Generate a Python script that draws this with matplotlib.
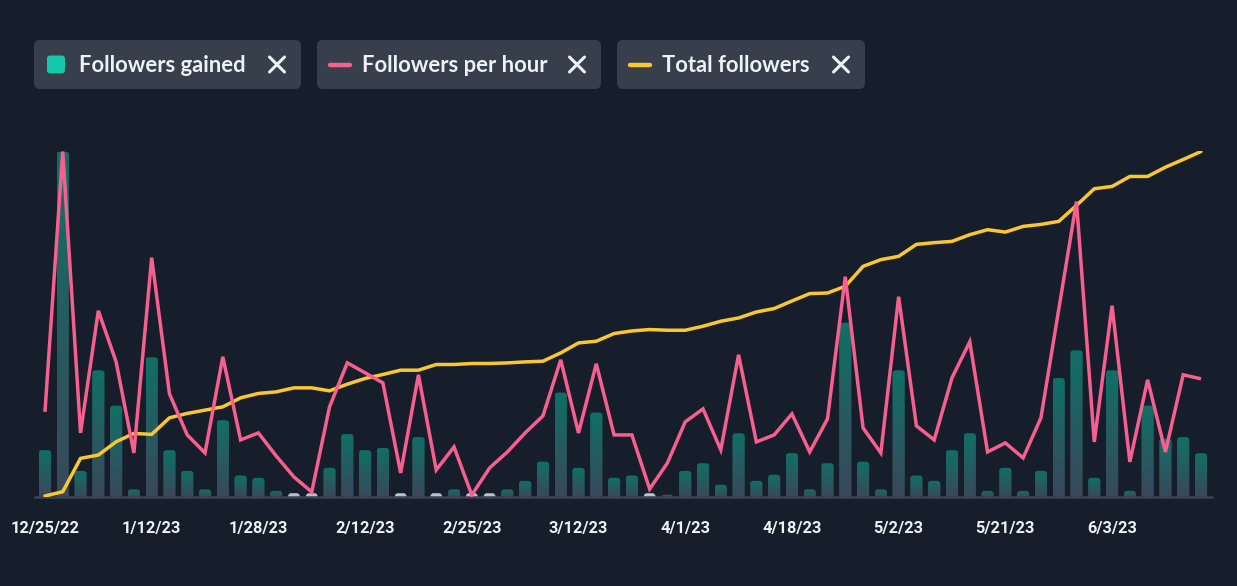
import numpy as np
import matplotlib
matplotlib.use("Agg")
import matplotlib.pyplot as plt
from matplotlib.patches import FancyBboxPatch

# --- data (one entry per stream) ---
followers_gained = [6.1, 45.0, 3.4, 16.5, 11.9, 1.0, 18.2, 6.1, 3.4, 1.0,
                    10.0, 2.8, 2.5, 0.8, 0, 0, 3.8, 8.2, 6.1, 6.4,
                    0, 7.8, 0, 1.0, 0, 0, 1.0, 2.1, 4.6, 13.6,
                    3.8, 11.0, 2.5, 2.8, 0, 0.3, 3.4, 4.4, 1.6, 8.3,
                    2.1, 2.9, 5.7, 1.0, 4.4, 22.7, 4.6, 1.0, 16.5, 2.8,
                    2.1, 6.1, 8.3, 0.8, 3.8, 0.8, 3.4, 15.5, 19.1, 2.5,
                    16.5, 0.8, 11.9, 7.6, 7.8, 5.7]

followers_per_hour = [0.85, 3.45, 0.64, 1.86, 1.35, 0.44, 2.39, 1.03, 0.62, 0.44,
                      1.40, 0.57, 0.64, 0.41, 0.20, 0.05, 0.90, 1.34, 1.24, 1.14,
                      0.24, 1.22, 0.27, 0.50, 0.02, 0.29, 0.45, 0.64, 0.81, 1.37,
                      0.64, 1.33, 0.62, 0.62, 0.08, 0.34, 0.75, 0.88, 0.47, 1.42,
                      0.55, 0.62, 0.83, 0.45, 0.78, 2.20, 0.69, 0.44, 2.00, 0.71,
                      0.57, 1.19, 1.55, 0.45, 0.54, 0.39, 0.79, 1.87, 2.95, 0.55,
                      1.91, 0.35, 1.17, 0.45, 1.22, 1.18]

total_followers = [5010, 5053, 5387, 5420, 5553, 5637, 5627, 5793, 5837, 5870,
                   5903, 5993, 6037, 6053, 6093, 6093, 6063, 6130, 6187, 6227,
                   6270, 6270, 6327, 6327, 6337, 6337, 6343, 6353, 6360, 6443,
                   6543, 6560, 6637, 6663, 6677, 6670, 6670, 6710, 6760, 6793,
                   6853, 6887, 6963, 7037, 7043, 7110, 7310, 7377, 7410, 7530,
                   7547, 7560, 7627, 7677, 7653, 7710, 7730, 7760, 7920, 8087,
                   8110, 8210, 8210, 8303, 8380, 8460]

tick_labels = ["12/25/22", "1/12/23", "1/28/23", "2/12/23", "2/25/23", "3/12/23",
               "4/1/23", "4/18/23", "5/2/23", "5/21/23", "6/3/23"]
tick_every = 6

legend_labels = ["Followers gained", "Followers per hour", "Total followers"]

BG = "#171e2b"
CHIP = "#383f4c"
TEAL = "#14c9a9"
BAR_TOP = np.array([16, 112, 101]) / 255
BAR_BOT = np.array([58, 72, 90]) / 255
ZERO_PILL = "#b7c1cf"
PINK = "#f65f8f"
YELLOW = "#fbc72e"
AXIS = "#3a4252"
TEXT = "#eef1f5"

W, H = 1237, 586
fig = plt.figure(figsize=(W / 100, H / 100), dpi=100, facecolor=BG)

left, right, top, bottom = 35, 1212, 151.5, 497
ax = fig.add_axes([left / W, (H - bottom) / H, (right - left) / W, (bottom - top) / H])
ax.set_facecolor(BG)
ax2 = ax.twinx()
ax3 = ax.twinx()

n = len(followers_gained)
x = np.arange(n)
xlim = (-0.56, 65.62)
ylim = (0, max(followers_gained))

# pixel scales, used for rounded bar tops
xppu = (right - left) / (xlim[1] - xlim[0])
yppu = (bottom - top) / (ylim[1] - ylim[0])
asp = xppu / yppu
bw = 12.3 / xppu
r = 3.0 / xppu

grad = np.linspace(0, 1, 64)[:, None, None]
grad_img = BAR_TOP * (1 - grad) + BAR_BOT * grad

for i, v in zip(x, followers_gained):
    if v > 0:
        patch = FancyBboxPatch((i - bw / 2, -r * asp), bw, v + r * asp,
                               boxstyle=f"round,pad=0,rounding_size={r}",
                               mutation_aspect=asp, fc="none", ec="none")
        ax.add_patch(patch)
        im = ax.imshow(grad_img, extent=(i - bw / 2, i + bw / 2, 0, v),
                       aspect="auto", origin="upper", zorder=2)
        im.set_clip_path(patch)
    else:
        pill = FancyBboxPatch((i - bw * 0.47, -r * asp), bw * 0.94, r * asp + 3.8 / yppu,
                              boxstyle=f"round,pad=0,rounding_size={r}",
                              mutation_aspect=asp, fc=ZERO_PILL, ec="none", zorder=2)
        ax.add_patch(pill)

ax.axhline(0, color=AXIS, lw=1.8, zorder=3, clip_on=False)

ax3.plot(x, total_followers, color=YELLOW, lw=2.5, solid_joinstyle="round",
         solid_capstyle="round", zorder=4)
ax2.plot(x, followers_per_hour, color=PINK, lw=2.5, solid_joinstyle="miter",
         solid_capstyle="butt", zorder=5)
ax2.set_zorder(ax3.get_zorder() + 1)

for a in (ax, ax2, ax3):
    a.set_xlim(*xlim)
    for s in a.spines.values():
        s.set_visible(False)
    a.patch.set_visible(False)
    a.tick_params(axis="y", length=0, labelleft=False, labelright=False)
ax.patch.set_visible(True)
ax.set_ylim(*ylim)
ax2.set_ylim(0, max(followers_per_hour))
ax3.set_ylim(min(total_followers) - 10, max(total_followers))
ax2.set_yticks([])
ax3.set_yticks([])
ax.set_yticks([])

ax.set_xticks(x[::tick_every])
ax.set_xticklabels(tick_labels, color=TEXT, fontsize=11.8, fontweight="bold",
                   family="Roboto")
ax.tick_params(axis="x", length=0, pad=17)

# --- legend chips drawn in pixel space ---
lg = fig.add_axes([0, 0, 1, 1], zorder=10)
lg.set_xlim(0, W)
lg.set_ylim(H, 0)
lg.axis("off")

chips = [(34, 267), (317, 284), (617, 248)]
for k, ((x0, w), label) in enumerate(zip(chips, legend_labels)):
    lg.add_patch(FancyBboxPatch((x0, 40), w, 49, boxstyle="round,pad=0,rounding_size=6",
                                fc=CHIP, ec="none"))
    cy = 64.5
    if k == 0:
        lg.add_patch(FancyBboxPatch((47, cy - 9), 18, 18, boxstyle="round,pad=0,rounding_size=3",
                                    fc=TEAL, ec="none"))
    else:
        col = PINK if k == 1 else YELLOW
        lg.plot([x0 + 13, x0 + 33], [cy, cy], color=col, lw=3.2, solid_capstyle="round")
    lg.text(x0 + 45, cy + 1.5, label, color=TEXT, fontsize=15.8, fontweight="bold",
            family="Lato", va="center", ha="left")
    xc = x0 + w - 24
    d = 7.5
    lg.plot([xc - d, xc + d], [cy - d, cy + d], color=TEXT, lw=2.2, solid_capstyle="round")
    lg.plot([xc - d, xc + d], [cy + d, cy - d], color=TEXT, lw=2.2, solid_capstyle="round")

fig.savefig("out.png", dpi=100, facecolor=BG)
